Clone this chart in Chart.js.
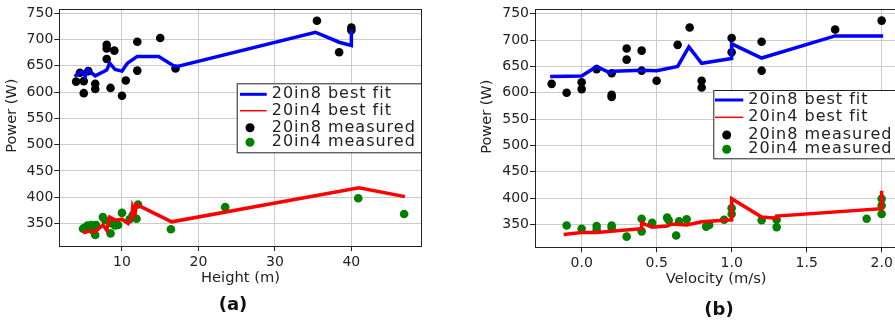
<!DOCTYPE html>
<html>
<head>
<meta charset="utf-8">
<script src="https://cdn.jsdelivr.net/npm/chart.js@4.4.0/dist/chart.umd.min.js"></script>
<style>
    html, body { margin: 0; padding: 0; background: #fff; overflow: hidden; width: 895px; height: 324px; }
    #left { position: absolute; left: 0; top: 0; }
    #right { position: absolute; left: 445px; top: 0; }
</style>
</head>
<body>
<canvas id="left" width="445" height="324"></canvas>
<canvas id="right" width="470" height="324"></canvas>
<script>
// ---- (a) Power vs height ----
const heightFit8X = [3.8, 4.4, 4.9, 5.2, 5.5, 6.5, 8.0, 8.4, 9.1, 10.0, 10.7, 12.0, 14.8, 17.0, 35.3, 38.4, 40.0, 40.0];
const heightFit8Y = [630, 636, 638, 630, 643, 631, 642, 655, 643, 640, 655, 668, 668, 648, 714, 695, 689, 719];
const heightFit4X = [4.9, 5.9, 6.5, 7.5, 8.0, 8.4, 9.2, 10.0, 10.8, 11.3, 11.4, 11.7, 11.9, 12.2, 16.5, 41.0, 47.0];
const heightFit4Y = [332, 336, 334, 347, 337, 362, 356, 358, 350, 362, 381, 369, 386, 384, 353, 418, 401];
const heightMeas8X = [4.0, 4.5, 5.0, 5.0, 5.6, 6.5, 6.5, 8.0, 8.0, 8.0, 8.5, 9.0, 10.0, 10.5, 12.0, 12.0, 15.0, 17.0, 35.5, 38.4, 40.0, 40.0];
const heightMeas8Y = [620, 637, 621, 598, 640, 616, 606, 690, 683, 663, 608, 679, 593, 622, 696, 641, 703, 645, 736, 676, 723, 718];
const heightMeas4X = [4.9, 5.2, 5.5, 6.0, 6.6, 6.5, 6.3, 7.5, 7.8, 8.5, 8.7, 9.1, 9.5, 10.0, 11.0, 11.4, 11.9, 12.1, 16.4, 23.5, 40.9, 46.9];
const heightMeas4Y = [340, 342, 346, 347, 347, 328, 335, 362, 356, 331, 350, 346, 347, 370, 358, 366, 359, 386, 339, 381, 398, 368];
const heightTicks = [10, 20, 30, 40];

// ---- (b) Power vs velocity ----
const velFit8X = [-0.21, 0.0, 0.1, 0.195, 0.21, 0.4, 0.5, 0.64, 0.715, 0.8, 1.0, 1.0, 1.2, 1.69, 2.01];
const velFit8Y = [631, 632, 650, 637, 641, 643, 642, 650, 687, 656, 665, 693, 666, 708, 708];
const velFit4X = [-0.12, 0.0, 0.1, 0.4, 0.4, 0.47, 0.57, 0.6, 0.7, 0.8, 1.0, 1.0, 1.2, 1.3, 1.3, 2.0, 2.0];
const velFit4Y = [331, 335, 335, 342, 353, 345, 347, 351, 349, 355, 359, 399, 364, 362, 366, 380, 414];
const velMeas8X = [-0.2, -0.1, 0.0, 0.0, 0.1, 0.2, 0.2, 0.2, 0.3, 0.3, 0.4, 0.4, 0.5, 0.64, 0.72, 0.8, 0.8, 1.0, 1.0, 1.2, 1.2, 1.69, 2.0];
const velMeas8Y = [617, 600, 620, 607, 645, 637, 596, 592, 684, 663, 680, 642, 623, 691, 724, 623, 610, 704, 677, 697, 642, 720, 737];
const velMeas4X = [-0.1, 0.0, 0.1, 0.1, 0.2, 0.2, 0.3, 0.4, 0.4, 0.47, 0.57, 0.58, 0.63, 0.65, 0.7, 0.83, 0.85, 0.95, 1.0, 1.0, 1.2, 1.3, 1.3, 1.9, 2.0, 2.0, 2.0];
const velMeas4Y = [348, 342, 347, 340, 348, 344, 327, 361, 337, 353, 363, 358, 329, 356, 360, 346, 349, 359, 381, 370, 358, 359, 345, 361, 399, 386, 370];
const velTicks = [0.0, 0.5, 1.0, 1.5, 2.0];

const powerTicks = [350, 400, 450, 500, 550, 600, 650, 700, 750];
const seriesLabels = ['20in8 best fit', '20in4 best fit', '20in8 measured', '20in4 measured'];

const zip = (xs, ys) => xs.map((x, i) => ({ x, y: ys[i] }));

Chart.defaults.font.family = "'DejaVu Sans', sans-serif";
Chart.defaults.font.size = 14;
Chart.defaults.color = '#222';

// frame, legend box, y title and panel letter
const panelDecor = {
    id: 'panelDecor',
    afterDraw(chart, args, o) {
        const ctx = chart.ctx, a = chart.chartArea;
        ctx.save();
        ctx.strokeStyle = '#222';
        ctx.lineWidth = 1;
        ctx.strokeRect(Math.round(a.left) + 0.5, Math.round(a.top) + 0.5, Math.round(a.right - a.left), Math.round(a.bottom - a.top));

        // legend
        const b = o.box;
        ctx.fillStyle = '#fff';
        ctx.fillRect(b.x, b.y, b.w, b.h);
        ctx.strokeStyle = '#222';
        ctx.strokeRect(b.x + 0.5, b.y + 0.5, b.w, b.h);
        ctx.font = "16px 'DejaVu Sans'";
        ctx.letterSpacing = '1px';
        ctx.textBaseline = 'middle';
        ctx.textAlign = 'left';
        chart.data.datasets.forEach((ds, i) => {
            const y = o.rows[i];
            if (ds.type === 'line') {
                ctx.strokeStyle = ds.borderColor;
                ctx.lineWidth = i === 0 ? 3 : 1.5;
                ctx.beginPath();
                ctx.moveTo(o.lineX[0], y);
                ctx.lineTo(o.lineX[1], y);
                ctx.stroke();
            } else {
                ctx.fillStyle = ds.backgroundColor;
                ctx.beginPath();
                ctx.arc(o.markerX, y, 4.5, 0, Math.PI * 2);
                ctx.fill();
            }
            ctx.fillStyle = '#222';
            ctx.fillText(ds.label, o.textX, y);
        });
        ctx.letterSpacing = '0px';

        // y axis title
        ctx.save();
        ctx.translate(o.yTitle.x, o.yTitle.y);
        ctx.rotate(-Math.PI / 2);
        ctx.font = "14.5px 'DejaVu Sans'";
        ctx.textAlign = 'center';
        ctx.fillStyle = '#222';
        ctx.fillText('Power (W)', 0, 0);
        ctx.restore();

        // panel letter
        ctx.font = "bold 18px 'DejaVu Sans'";
        ctx.textAlign = 'center';
        ctx.fillStyle = '#111';
        ctx.fillText(o.letter.text, o.letter.x, o.letter.y);
        ctx.restore();
    }
};

function makePanel(id, cfg) {
    return new Chart(document.getElementById(id), {
        data: {
            datasets: [
                { type: 'line', label: seriesLabels[0], data: zip(cfg.fit8X, cfg.fit8Y), borderColor: '#0000ff', borderWidth: 3.5, pointRadius: 0, tension: 0, order: 0 },
                { type: 'line', label: seriesLabels[1], data: zip(cfg.fit4X, cfg.fit4Y), borderColor: '#ff0000', borderWidth: 3.5, pointRadius: 0, tension: 0, order: 0 },
                { type: 'scatter', label: seriesLabels[2], data: zip(cfg.meas8X, cfg.meas8Y), backgroundColor: '#000', borderWidth: 0, pointRadius: 4.3, order: 1 },
                { type: 'scatter', label: seriesLabels[3], data: zip(cfg.meas4X, cfg.meas4Y), backgroundColor: '#008000', borderWidth: 0, pointRadius: 4.3, order: 1 }
            ]
        },
        options: {
            responsive: false,
            animation: false,
            layout: { padding: { top: cfg.top, right: cfg.right, left: 0, bottom: 0 } },
            plugins: {
                legend: { display: false },
                tooltip: { enabled: false },
                panelDecor: cfg.decor
            },
            scales: {
                x: {
                    type: 'linear',
                    min: cfg.xMin, max: cfg.xMax,
                    afterBuildTicks: s => { s.ticks = cfg.xTicks.map(v => ({ value: v })); },
                    afterFit: s => { s.height = cfg.xHeight; },
                    ticks: { padding: 3, font: { size: 14 }, callback: cfg.fmt },
                    grid: { color: '#cbcbcb', tickColor: '#222', tickLength: 5 },
                    border: { color: '#222' },
                    title: { display: true, text: cfg.xTitle, font: { size: 14.7 }, padding: { top: 0, bottom: cfg.titlePad } }
                },
                y: {
                    type: 'linear',
                    min: cfg.yMin, max: cfg.yMax,
                    afterBuildTicks: s => { s.ticks = powerTicks.map(v => ({ value: v })); },
                    afterFit: s => { s.width = cfg.yWidth; },
                    ticks: { padding: 1, font: { size: 14 } },
                    grid: { color: '#cbcbcb', tickColor: '#222', tickLength: 5 },
                    border: { color: '#222' }
                }
            }
        },
        plugins: [panelDecor]
    });
}

makePanel('left', {
    fit8X: heightFit8X, fit8Y: heightFit8Y, fit4X: heightFit4X, fit4Y: heightFit4Y,
    meas8X: heightMeas8X, meas8Y: heightMeas8Y, meas4X: heightMeas4X, meas4Y: heightMeas4Y,
    xMin: 1.8, xMax: 49.2, xTicks: heightTicks, fmt: v => String(v), xTitle: 'Height (m)',
    yMin: 307, yMax: 757.5, top: 6, right: 23.3, yWidth: 59.3, xHeight: 78, titlePad: 37.5,
    decor: {
        box: { x: 236.7, y: 83.3, w: 184.3, h: 69 },
        rows: [94.3, 110.7, 127.7, 142.3],
        lineX: [240, 266.7], markerX: 250, textX: 271.7,
        yTitle: { x: 12, y: 115.7 },
        letter: { text: '(a)', x: 233, y: 305.7 }
    }
});

makePanel('right', {
    fit8X: velFit8X, fit8Y: velFit8Y, fit4X: velFit4X, fit4Y: velFit4Y,
    meas8X: velMeas8X, meas8Y: velMeas8Y, meas4X: velMeas4X, meas4Y: velMeas4Y,
    xMin: -0.311, xMax: 2.105, xTicks: velTicks, fmt: v => v.toFixed(1), xTitle: 'Velocity (m/s)',
    yMin: 306.7, yMax: 758.3, top: 7.3, right: 17.6, yWidth: 90, xHeight: 76.7, titlePad: 36.5,
    decor: {
        box: { x: 268.3, y: 90, w: 184, h: 68.3 },
        rows: [100, 117.3, 135, 149.3],
        lineX: [270, 298.3], markerX: 281.7, textX: 303.3,
        yTitle: { x: 42, y: 116.7 },
        letter: { text: '(b)', x: 274, y: 310.7 }
    }
});
</script>
</body>
</html>
